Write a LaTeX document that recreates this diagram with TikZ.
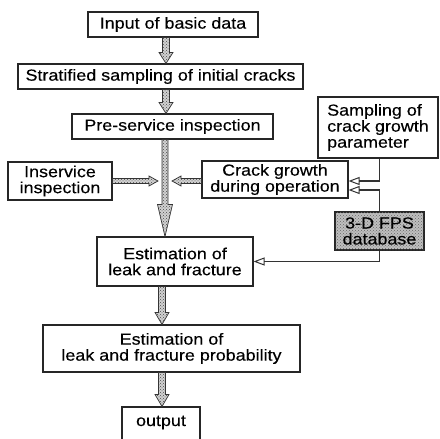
\documentclass[tikz,border=0pt]{standalone}
\usepackage{fontspec}
\setmainfont{Liberation Sans}[FakeStretch=1.12,FakeBold=0.3]
\usetikzlibrary{arrows.meta,patterns,calc}
\newcommand\vblk[6]{\path[blk] let \p1=(#1), \p2=(#2) in
 (#3-#4,\y1) -- (#3+#4,\y1) -- (#3+#4,\y2+#6) -- (#3+#5,\y2+#6) -- (#3,\y2) -- (#3-#5,\y2+#6) -- (#3-#4,\y2+#6) -- cycle;}
\newcommand\hblk[5]{\path[blk] let \p1=(#1), \p2=(#2), \n1={\x2-(#5)} in
 (\x1,\y2-#3) -- (\n1,\y2-#3) -- (\n1,\y2-#4) -- (\x2,\y2) -- (\n1,\y2+#4) -- (\n1,\y2+#3) -- (\x1,\y2+#3) -- cycle;}
\begin{document}
\begin{tikzpicture}[x=1pt,y=-1pt,
  box/.style={draw=black!85, line width=1.1pt, inner sep=0pt, align=center, font=\fontsize{16}{16}\selectfont},
  blk/.style={draw=black!80, line width=0.7pt, fill=black!18, postaction={pattern=crosshatch dots, pattern color=black!70}},
  link/.style={draw=black!80, line width=1.1pt, -{Triangle[open,length=11pt,width=8pt,line width=1pt]}}]
\useasboundingbox (0,0) rectangle (440,439);
\clip (0,0) rectangle (440,439);
\node[box, minimum width=170pt, minimum height=25pt] (input) at (173,24.5) {Input of basic data};
\node[box, minimum width=285pt, minimum height=25pt] (strat) at (160.5,76.5) {Stratified sampling of initial cracks};
\node[box, minimum width=201pt, minimum height=25pt] (pre) at (172.5,126.5) {Pre-service inspection};
\node[box, minimum width=120pt, minimum height=61pt, align=left] (samp) at (378,127.5) {Sampling of\\crack growth\\parameter};
\node[box, minimum width=104pt, minimum height=38pt] (insv) at (60,181) {Inservice\\inspection};
\node[box, minimum width=146pt, minimum height=37pt] (crack) at (275,179.5) {Crack growth\\during operation};
\node[box, minimum width=89pt, minimum height=38pt, fill=black!25, postaction={pattern=crosshatch dots, pattern color=black!60}] (fps) at (379.5,231) {3-D FPS\\database};
\node[box, minimum width=156pt, minimum height=49pt] (est1) at (175,261.5) {Estimation of\\leak and fracture};
\node[box, minimum width=257pt, minimum height=47pt] (est2) at (171.5,348.5) {Estimation of\\leak and fracture probability};
\node[box, minimum width=78pt, minimum height=40pt, text height=12pt, text depth=14pt] (out) at (161,427) {output};
\vblk{input.south}{strat.north}{166pt}{3.5pt}{7pt}{11pt}
\vblk{strat.south}{pre.north}{166pt}{3.5pt}{7pt}{11pt}
\vblk{pre.south}{est1.north}{165pt}{3pt}{7.5pt}{32pt}
\vblk{est1.south}{est2.north}{162pt}{3.5pt}{7pt}{12pt}
\vblk{est2.south}{out.north}{162pt}{3.5pt}{7pt}{12pt}
\coordinate (tipA) at (158,181);
\coordinate (tipB) at (172,181);
\hblk{insv.east}{tipA}{2.5pt}{5pt}{9pt}
\hblk{crack.west}{tipB}{2.5pt}{5pt}{-9pt}
\draw[link] (samp.south -| fps.north) |- ([yshift=-1.5pt]crack.east);
\draw[link] (fps.north) |- ([yshift=-10.5pt]crack.east);
\draw[link] (fps.south) |- (est1.east);
\end{tikzpicture}
\end{document}
